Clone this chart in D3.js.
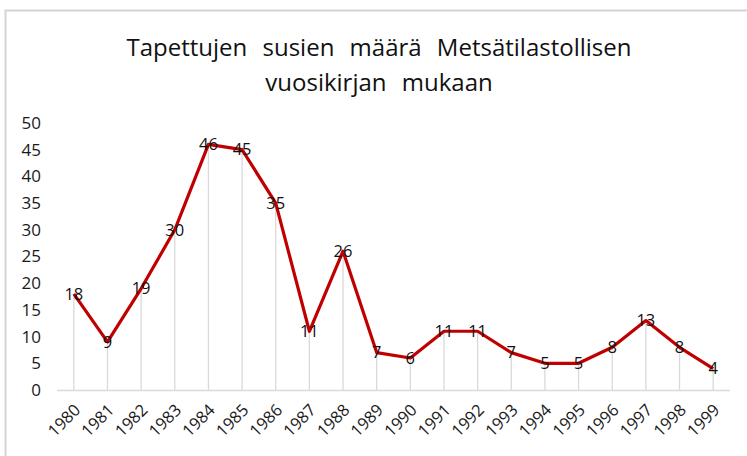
<!DOCTYPE html>
<html>
<head>
<meta charset="utf-8">
<script src="https://cdn.jsdelivr.net/npm/d3@7"></script>
<style>
  body { margin: 0; background: #fff; }
  text { font-family: "Open Sans", "Noto Sans", sans-serif; fill: #222; }
</style>
</head>
<body>
<div id="container"></div>
<script>
  // data
  const years = ['1980','1981','1982','1983','1984','1985','1986','1987','1988','1989',
                 '1990','1991','1992','1993','1994','1995','1996','1997','1998','1999']
  const wolves = [18, 9, 19, 30, 46, 45, 35, 11, 26, 7, 6, 11, 11, 7, 5, 5, 8, 13, 8, 4]
  const yTicks = [0, 5, 10, 15, 20, 25, 30, 35, 40, 45, 50]
  const titleLines = ['Tapettujen susien määrä Metsätilastollisen', 'vuosikirjan mukaan']

  const width = 747
  const height = 456
  const plot = { left: 57, right: 730, top: 123, bottom: 390 }

  const svg = d3.select('#container')
    .append('svg')
    .attr('width', width)
    .attr('height', height)

  // chart frame (only left and top visible)
  svg.append('rect')
    .attr('x', 5.5)
    .attr('y', 10.5)
    .attr('width', 760)
    .attr('height', 470)
    .attr('fill', 'none')
    .attr('stroke', '#d4d4d4')
    .attr('stroke-width', 2)

  const xScale = d3.scalePoint()
    .domain(years)
    .range([plot.left, plot.right])
    .padding(0.5)

  const yScale = d3.scaleLinear()
    .domain([0, 50])
    .range([plot.bottom, plot.top])

  // title
  svg.append('text')
    .attr('text-anchor', 'middle')
    .style('font-size', '24px')
    .style('word-spacing', '9px')
    .style('fill', '#111')
    .selectAll('tspan')
    .data(titleLines)
    .enter()
    .append('tspan')
    .attr('x', 379)
    .attr('y', (d, i) => 56 + i * 35)
    .text(d => d)

  // y axis labels
  const yAxis = svg.append('g')
    .attr('transform', `translate(${plot.left - 16}, 0)`)
    .call(d3.axisLeft(yScale).tickValues(yTicks).tickSize(0).tickPadding(0))
  yAxis.select('.domain').remove()
  yAxis.attr('font-size', null).attr('font-family', null)
  yAxis.selectAll('text')
    .style('font-size', '17px')
    .style('fill', '#1a1a1a')
    .attr('text-anchor', 'end')

  // drop lines
  svg.append('g')
    .selectAll('line')
    .data(wolves)
    .enter()
    .append('line')
    .attr('x1', (d, i) => xScale(years[i]))
    .attr('x2', (d, i) => xScale(years[i]))
    .attr('y1', d => yScale(d))
    .attr('y2', yScale(0))
    .attr('stroke', '#d9d9d9')
    .attr('stroke-width', 1.3)

  // x axis
  const xAxis = svg.append('g')
    .attr('transform', `translate(0, ${plot.bottom})`)
    .call(d3.axisBottom(xScale).tickSize(0).tickPadding(0))
  xAxis.attr('font-size', null).attr('font-family', null)
  xAxis.select('.domain')
    .attr('d', `M${plot.left},0.5H${plot.right}`)
    .attr('stroke', '#d9d9d9')
    .attr('stroke-width', 1.5)
  xAxis.selectAll('text')
    .style('font-size', '16.5px')
    .style('fill', '#1a1a1a')
    .attr('text-anchor', 'end')
    .attr('x', 0)
    .attr('y', 0)
    .attr('dy', '0.35em')
    .attr('transform', 'translate(3,17) rotate(-45)')

  // line
  const line = d3.line()
    .x((d, i) => xScale(years[i]))
    .y(d => yScale(d))

  svg.append('path')
    .datum(wolves)
    .attr('fill', 'none')
    .attr('stroke', '#c00000')
    .attr('stroke-width', 3.2)
    .attr('stroke-linejoin', 'round')
    .attr('d', line)

  // data labels
  svg.append('g')
    .selectAll('text')
    .data(wolves)
    .enter()
    .append('text')
    .attr('x', (d, i) => xScale(years[i]))
    .attr('y', d => yScale(d))
    .attr('dy', '0.35em')
    .attr('text-anchor', 'middle')
    .style('font-size', '16.5px')
    .style('fill', '#111')
    .text(d => d)
</script>
</body>
</html>
